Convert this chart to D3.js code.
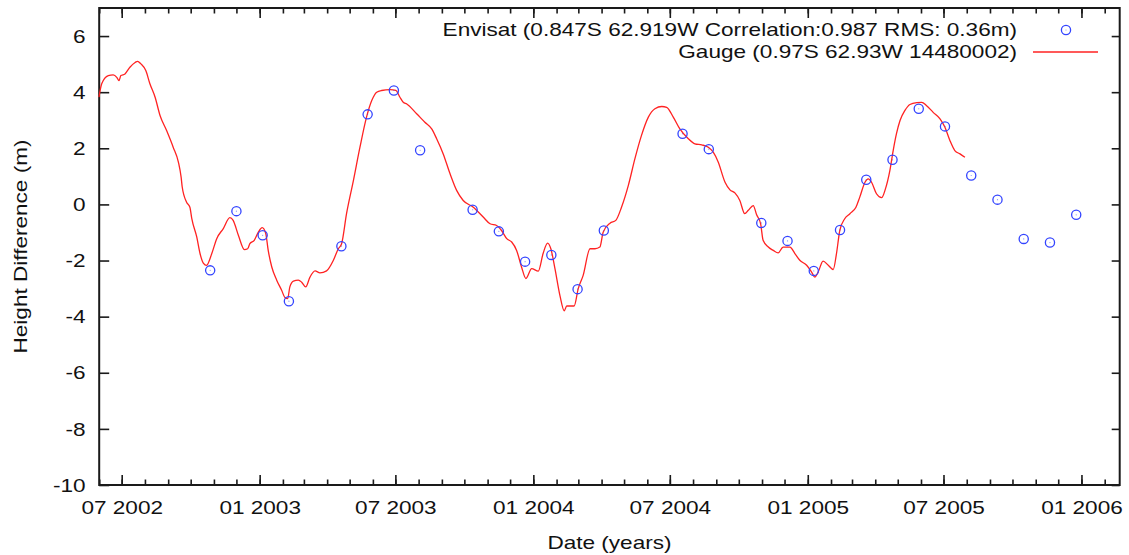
<!DOCTYPE html>
<html>
<head>
<meta charset="utf-8">
<script src="https://cdn.jsdelivr.net/npm/d3@7"></script>
<style>
  html, body { margin: 0; padding: 0; background: #fff; }
  svg { display: block; }
  text { font-family: "Liberation Sans", Arial, Helvetica, sans-serif; fill: #111; }
</style>
</head>
<body>
<svg id="chart" width="1129" height="555"></svg>
<script>
// ---------- data ----------
const envisatDates = ["2002-10-27","2002-12-01","2003-01-05","2003-02-09","2003-04-20","2003-05-25",
  "2003-06-29","2003-08-03","2003-10-12","2003-11-16","2003-12-21","2004-01-25","2004-02-29",
  "2004-04-04","2004-07-18","2004-08-22","2004-10-31","2004-12-05","2005-01-09","2005-02-13",
  "2005-03-20","2005-04-24","2005-05-29","2005-07-03","2005-08-07","2005-09-11","2005-10-16",
  "2005-11-20","2005-12-25"];
const envisatHeights = [-2.35,-0.24,-1.10,-3.45,-1.49,3.21,4.06,1.93,-0.19,-0.96,-2.04,-1.80,-3.02,
  -0.93,2.52,1.97,-0.66,-1.30,-2.37,-0.91,0.88,1.59,3.41,2.78,1.03,0.17,-1.23,-1.36,-0.37];

// gauge time in decimal years (2002.5 = 1 Jul 2002)
const gaugeYears = [2002.417,2002.427,2002.451,2002.469,2002.482,2002.490,2002.497,2002.512,2002.530,2002.549,
  2002.558,2002.570,2002.588,2002.603,2002.622,2002.640,2002.664,2002.688,2002.707,2002.717,
  2002.721,2002.737,2002.749,2002.756,2002.774,2002.786,2002.798,2002.810,2002.829,2002.847,
  2002.871,2002.895,2002.907,2002.926,2002.948,2002.960,2002.968,2002.984,2002.999,2003.013,
  2003.026,2003.035,2003.048,2003.066,2003.084,2003.096,2003.106,2003.114,2003.127,2003.145,
  2003.157,2003.172,2003.187,2003.206,2003.224,2003.248,2003.273,2003.291,2003.303,2003.321,
  2003.346,2003.370,2003.394,2003.413,2003.431,2003.449,2003.480,2003.501,2003.516,2003.528,
  2003.541,2003.577,2003.607,2003.632,2003.650,2003.674,2003.699,2003.723,2003.747,2003.784,
  2003.820,2003.845,2003.869,2003.887,2003.906,2003.924,2003.942,2003.960,2003.976,2003.997,
  2004.021,2004.039,2004.055,2004.067,2004.082,2004.100,2004.116,2004.125,2004.152,2004.167,
  2004.185,2004.210,2004.228,2004.246,2004.258,2004.283,2004.304,2004.325,2004.350,2004.374,
  2004.398,2004.423,2004.447,2004.472,2004.490,2004.514,2004.538,2004.569,2004.593,2004.618,
  2004.642,2004.660,2004.678,2004.703,2004.721,2004.739,2004.757,2004.775,2004.788,2004.806,
  2004.818,2004.833,2004.842,2004.861,2004.879,2004.897,2004.915,2004.940,2004.958,2004.976,
  2005.001,2005.019,2005.031,2005.043,2005.061,2005.080,2005.098,2005.110,2005.122,2005.140,
  2005.159,2005.181,2005.195,2005.214,2005.226,2005.238,2005.256,2005.275,2005.287,2005.305,
  2005.317,2005.329,2005.342,2005.360,2005.378,2005.403,2005.421,2005.439,2005.463,2005.488,
  2005.506,2005.524,2005.542,2005.561,2005.579];
const gaugeHeights = [3.82,4.30,4.59,4.62,4.53,4.41,4.59,4.65,4.89,5.06,
  5.10,5.01,4.77,4.30,3.82,3.17,2.63,2.04,1.51,0.97,
  0.62,0.08,-0.10,-0.51,-1.16,-1.75,-2.09,-2.17,-1.75,-1.22,
  -0.86,-0.47,-0.57,-1.10,-1.61,-1.58,-1.40,-1.28,-0.99,-0.83,
  -1.04,-1.64,-2.23,-2.70,-3.06,-3.32,-3.36,-2.94,-2.73,-2.70,
  -2.77,-2.94,-2.60,-2.37,-2.44,-2.37,-1.99,-1.58,-1.40,-0.33,
  0.85,2.04,3.11,3.70,4.00,4.06,4.09,4.06,3.82,3.64,
  3.58,3.23,2.93,2.69,2.34,1.80,1.09,0.50,0.14,-0.10,
  -0.45,-0.69,-0.75,-0.93,-1.22,-1.34,-1.64,-2.23,-2.64,-2.29,
  -2.38,-1.74,-1.38,-1.58,-2.29,-3.24,-3.79,-3.62,-3.62,-3.00,
  -2.53,-1.58,-1.58,-1.52,-0.99,-0.67,-0.57,-0.10,0.68,1.63,
  2.46,3.11,3.41,3.49,3.46,3.11,2.69,2.34,2.16,2.12,
  2.04,1.86,1.51,0.79,0.52,0.41,0.14,-0.33,-0.21,-0.04,
  -0.36,-0.69,-1.28,-1.52,-1.64,-1.73,-1.52,-1.52,-1.75,-1.99,
  -2.17,-2.41,-2.59,-2.41,-2.02,-2.17,-2.32,-1.75,-0.93,-0.51,
  -0.33,-0.10,0.26,0.79,0.91,0.79,0.38,0.24,0.50,1.21,
  1.92,2.52,2.99,3.35,3.56,3.63,3.64,3.52,3.28,3.05,
  2.75,2.28,1.92,1.80,1.68];

const yTickValues = [-10,-8,-6,-4,-2,0,2,4,6];
const envisatLabel = "Envisat (0.847S 62.919W Correlation:0.987 RMS: 0.36m)";
const gaugeLabel = "Gauge (0.97S 62.93W 14480002)";
const xTitle = "Date (years)";
const yTitle = "Height Difference (m)";

// ---------- layout ----------
const L = 99.2, R = 1119.7, T = 8, B = 485;
const FS = 17.5, SX = 1.29; // font size and horizontal stretch of the glyphs
const svg = d3.select("#chart");
svg.append("rect").attr("width", 1129).attr("height", 555).attr("fill", "#fff");

const x = d3.scaleUtc()
  .domain([new Date(Date.UTC(2002, 5, 1)), new Date(Date.UTC(2006, 1, 21))])
  .range([L, R]);
const y = d3.scaleLinear().domain([-10, 7]).range([B, T]);

const epoch = Date.UTC(2002, 6, 1);
const yearToDate = t => new Date(epoch + (t - 2002.5) * 365.25 * 864e5);

const gauge = gaugeYears.map((t, i) => ({ d: yearToDate(t), v: gaugeHeights[i] }));
const envisat = envisatDates.map((s, i) => ({ d: new Date(s + "T00:00:00Z"), v: envisatHeights[i] }));

// ---------- axes ----------
const axisColor = "#1a1a1a";
function styleAxis(g) {
  g.select(".domain").remove();
  g.selectAll(".tick line").attr("stroke", axisColor).attr("stroke-width", 1.6);
}
const fmt = d3.utcFormat("%m %Y");
const majorX = d3.utcMonth.every(6);
const minorX = d3.utcMonth.every(1);

svg.append("g").attr("transform", `translate(0,${B})`)
  .call(d3.axisBottom(x).ticks(minorX).tickSize(-5.5).tickFormat(""))
  .call(styleAxis);
svg.append("g").attr("transform", `translate(0,${T})`)
  .call(d3.axisTop(x).ticks(minorX).tickSize(-5.5).tickFormat(""))
  .call(styleAxis);

const gx = svg.append("g").attr("transform", `translate(0,${B})`)
  .call(d3.axisBottom(x).ticks(majorX).tickSize(-10).tickFormat(fmt))
  .call(styleAxis);
gx.selectAll(".tick text")
  .attr("y", 23).attr("dy", "0.35em")
  .attr("transform", `scale(${SX},1)`)
  .style("font-size", FS + "px").attr("fill", "#111");
svg.append("g").attr("transform", `translate(0,${T})`)
  .call(d3.axisTop(x).ticks(majorX).tickSize(-10).tickFormat(""))
  .call(styleAxis);

const gy = svg.append("g").attr("transform", `translate(${L},0)`)
  .call(d3.axisLeft(y).tickValues(yTickValues).tickSize(-10).tickFormat(d => String(d)))
  .call(styleAxis);
gy.selectAll(".tick text")
  .attr("x", -13.7 / SX).attr("dy", "0.35em")
  .attr("transform", `scale(${SX},1)`)
  .style("font-size", FS + "px").attr("fill", "#111");
svg.append("g").attr("transform", `translate(${R},0)`)
  .call(d3.axisRight(y).tickValues(yTickValues).tickSize(-8).tickFormat(""))
  .call(styleAxis);

svg.append("rect").attr("x", L).attr("y", T).attr("width", R - L).attr("height", B - T)
  .attr("fill", "none").attr("stroke", axisColor).attr("stroke-width", 2);

// ---------- series ----------
const line = d3.line().curve(d3.curveMonotoneX).x(d => x(d.d)).y(d => y(d.v));
svg.append("path").datum(gauge)
  .attr("d", line).attr("fill", "none")
  .attr("stroke", "#ff2222").attr("stroke-width", 1.3).attr("stroke-linejoin", "round");

const blue = "#3344ff";
const pts = svg.append("g");
pts.selectAll("circle.ring").data(envisat).join("circle").attr("class", "ring")
  .attr("cx", d => x(d.d)).attr("cy", d => y(d.v)).attr("r", 4.6)
  .attr("fill", "none").attr("stroke", blue).attr("stroke-width", 1.3);
pts.selectAll("circle.dot").data(envisat).join("circle").attr("class", "dot")
  .attr("cx", d => x(d.d)).attr("cy", d => y(d.v)).attr("r", 0.6)
  .attr("fill", blue).attr("opacity", 0.6);

// ---------- legend ----------
function stretchedText(px, py, str, anchor, rot) {
  const g = svg.append("g").attr("transform", `translate(${px},${py})` + (rot ? ` rotate(${rot})` : "") + ` scale(${SX},1)`);
  g.append("text").attr("text-anchor", anchor).attr("dy", "0.35em")
    .style("font-size", FS + "px").text(str);
}
stretchedText(1017, 30, envisatLabel, "end");
stretchedText(1017, 52, gaugeLabel, "end");
svg.append("circle").attr("cx", 1066).attr("cy", 30).attr("r", 4.6)
  .attr("fill", "none").attr("stroke", blue).attr("stroke-width", 1.3);
svg.append("circle").attr("cx", 1066).attr("cy", 30).attr("r", 0.6).attr("fill", blue).attr("opacity", 0.6);
svg.append("line").attr("x1", 1033).attr("x2", 1098).attr("y1", 52).attr("y2", 52)
  .attr("stroke", "#ff2222").attr("stroke-width", 1.3);

// ---------- titles ----------
stretchedText((L + R) / 2, 543, xTitle, "middle");
stretchedText(20.5, (T + B) / 2, yTitle, "middle", -90);
</script>
</body>
</html>
